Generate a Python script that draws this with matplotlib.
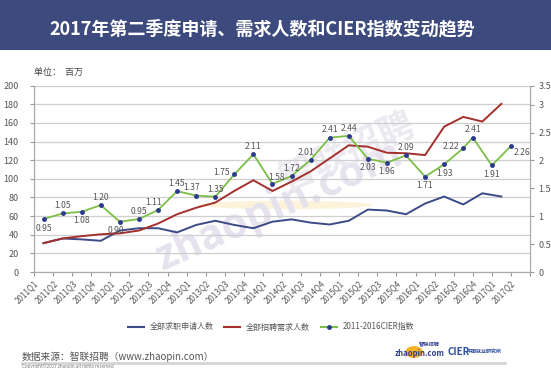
import numpy as np
import matplotlib
matplotlib.use('Agg')
import matplotlib.pyplot as plt
import matplotlib.patches as patches

plt.rcParams['font.family'] = ['Noto Sans CJK SC', 'DejaVu Sans']

quarters = ['2011Q1', '2011Q2', '2011Q3', '2011Q4', '2012Q1', '2012Q2', '2012Q3',
            '2012Q4', '2013Q1', '2013Q2', '2013Q3', '2013Q4', '2014Q1', '2014Q2',
            '2014Q3', '2014Q4', '2015Q1', '2015Q2', '2015Q3', '2015Q4', '2016Q1',
            '2016Q2', '2016Q3', '2016Q4', '2017Q1', '2017Q2']

# millions, 2011Q1 .. 2017Q1
applicants = [31, 36, 35, 33.5, 44.5, 47, 47, 42.5, 50.5, 55, 50.5, 47, 54,
              56.5, 53, 51, 55, 67, 66, 62, 73.5, 81, 72.5, 84.5, 81]
demand = [31, 36, 38.5, 40.5, 41.5, 44.5, 52, 62, 69, 74.5, 87, 98.5, 87,
          97, 108, 122, 136, 134.5, 128, 127.5, 125.5, 156, 166.5, 161.5, 180.5]
cier = [0.95, 1.05, 1.08, 1.20, 0.90, 0.95, 1.11, 1.45, 1.37, 1.35, 1.75, 2.11, 1.58,
        1.72, 2.01, 2.41, 2.44, 2.03, 1.96, 2.09, 1.71, 1.93, 2.22, 2.41, 1.91, 2.26]

# where each CIER label sits relative to its point
label_side = ['b', 'a', 'b', 'a', 'bl', 'a', 'al', 'a', 'al', 'a', 'l', 'a', 'ar',
              'a', 'al', 'a', 'a', 'b', 'b', 'a', 'b', 'b', 'l', 'a', 'b', 'br']

BLUE = '#3c4a86'
RED = '#a3302c'
GREEN = '#7dbf45'
GRAY = '#555555'

fig = plt.figure(figsize=(5.51, 3.68), dpi=100)
fig.patch.set_facecolor('white')

# title bar
fig.patches.append(patches.Rectangle((0, 1 - 50 / 368), 1, 50 / 368, transform=fig.transFigure,
                                     facecolor='#3d4a7e', edgecolor='none', zorder=0))
fig.text(262 / 551, 1 - 29 / 368, '2017年第二季度申请、需求人数和CIER指数变动趋势',
         color='white', fontsize=13, fontweight='bold', ha='center', va='center')

ax = fig.add_axes([34 / 551, 1 - 272 / 368, (530 - 34) / 551, (272 - 85.7) / 368])
ax2 = ax.twinx()

# faint watermark
ax.add_patch(patches.Circle((13.2, 72), 4.6, facecolor='#fcf3da', edgecolor='none',
                            zorder=0))
ax.text(12.8, 72, 'zhaopin.com', fontsize=30, fontweight='bold', color='#e6e2ee',
        rotation=24, ha='center', va='center', zorder=0.5)
ax.text(16.5, 128, '智联招聘', fontsize=26, fontweight='bold', color='#ece9f1',
        rotation=24, ha='center', va='center', zorder=0.5)

x_main = np.arange(len(applicants)) + 0.5
x_cier = np.r_[np.arange(23) + 0.5, 23, 24, 25]

ax.plot(x_main, applicants, color=BLUE, lw=1.4, zorder=3)
ax.plot(x_main, demand, color=RED, lw=1.4, zorder=3)

ax.set_xlim(0, 26)
ax.set_ylim(0, 200)
ax.set_yticks(np.arange(0, 201, 20))
ax.grid(axis='y', color='#cfcfcf', lw=0.9)
ax.set_axisbelow(True)
ax.set_xticks(np.arange(0, 27))
ax.set_xticklabels(quarters + [''], rotation=45, ha='right', va='top',
                   rotation_mode='anchor', fontsize=5.8, color=GRAY)
ax.tick_params(axis='x', length=3, color='#999999', pad=2)
ax.tick_params(axis='y', length=3, color='#999999', labelsize=6.5, labelcolor=GRAY, pad=8)
ax.spines['top'].set_visible(False)
for s in ['left', 'right', 'bottom']:
    ax.spines[s].set_color('#aaaaaa')

ax2.plot(x_cier, cier, color=GREEN, lw=1.3, marker='o', ms=2.5,
         mfc='#2b3a8c', mec='#2b3a8c', zorder=4)
ax2.set_ylim(0, 3.34)
ax2.set_yticks([0, 0.5, 1, 1.5, 2, 2.5, 3, 3.34])
ax2.set_yticklabels(['0', '0.5', '1', '1.5', '2', '2.5', '3', '3.5'])
ax2.tick_params(axis='y', length=3, color='#999999', labelsize=6.5, labelcolor=GRAY, pad=3)
ax2.spines['top'].set_visible(False)
for s in ['left', 'right', 'bottom']:
    ax2.spines[s].set_color('#aaaaaa')

offsets = {'a': (0, 5.5), 'b': (0, -6.5), 'l': (-9, 1), 'r': (9, 0), 'al': (-3, 5.5),
           'ar': (3, 4.5), 'bl': (-3, -6), 'br': (8, -5)}
for xv, yv, side in zip(x_cier, cier, label_side):
    dx, dy = offsets[side]
    ax2.annotate(f'{yv:.2f}', (xv, yv), xytext=(dx, dy), textcoords='offset points',
                 ha='center', va='center', fontsize=6.2, color=GRAY, zorder=5)

ax.text(0.0, 1.07, '单位：  百万', transform=ax.transAxes, fontsize=6.5, color='#444444',
        ha='left', va='center')

# legend
h1, = ax.plot([], [], color=BLUE, lw=1.5)
h2, = ax.plot([], [], color=RED, lw=1.5)
h3, = ax.plot([], [], color=GREEN, lw=1.5, marker='o', ms=2.5, mfc='#2b3a8c', mec='#2b3a8c')
fig.legend([h1, h2, h3], ['全部求职申请人数', '全部招聘需求人数', '2011-2016CIER指数'],
           loc='center', bbox_to_anchor=(271 / 551, 1 - 327 / 368), ncol=3,
           frameon=False, fontsize=5.8, handlelength=2.0, columnspacing=1.3,
           handletextpad=0.7, labelcolor=GRAY)

# footer
fig.text(22 / 551, 1 - 357 / 368, '数据来源：智联招聘（www.zhaopin.com）', fontsize=7,
         color=GRAY, ha='left', va='center')
fig.add_artist(plt.Line2D([22 / 551, 505 / 551], [1 - 363 / 368, 1 - 363 / 368],
                          transform=fig.transFigure, color='#d5d5d5', lw=2))
fig.text(22 / 551, 1 - 366 / 368, 'Copyright©2017 zhaopin.all rights reserved',
         fontsize=3.3, color='#777777', ha='left', va='center')
fig.add_artist(patches.Circle((414 / 551, 1 - 352 / 368), 0.016, transform=fig.transFigure,
                              facecolor='#f5b026', edgecolor='none'))
fig.text(395 / 551, 1 - 353 / 368, 'zhaopin.com', fontsize=5.6, fontweight='bold',
         style='italic', color='#2f3f8f', ha='left', va='center')
fig.text(419 / 551, 1 - 345 / 368, '智联招聘', fontsize=3.8, fontweight='bold',
         color='#2f3f8f', ha='left', va='center')
fig.text(447 / 551, 1 - 352 / 368, 'CIER', fontsize=7, fontweight='bold',
         color='#2f4fa0', ha='left', va='center')
fig.text(467 / 551, 1 - 351 / 368, '中国就业研究所', fontsize=3.6, fontweight='bold',
         color='#2f4fa0', ha='left', va='center')

fig.savefig('out.png', dpi=100)
